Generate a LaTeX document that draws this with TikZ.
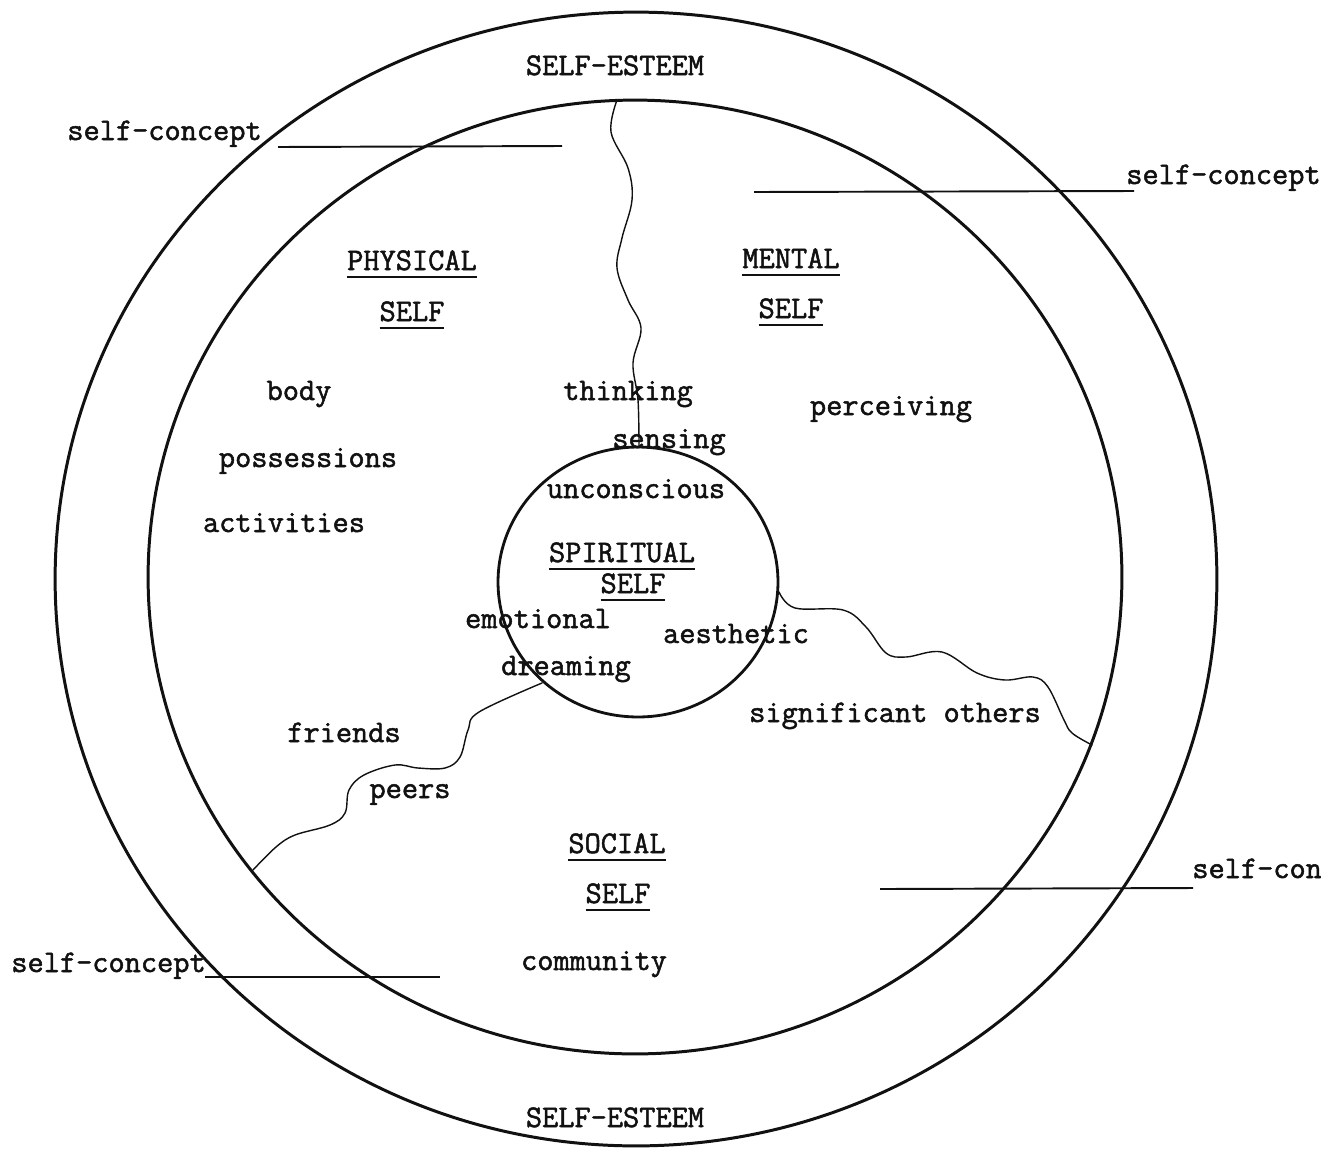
\documentclass[tikz,border=0pt]{standalone}
\usepackage{fontspec}
\usepackage{xcolor}
\usepackage{tikz}
\newfontfamily\typefont{Latin Modern Mono}[FakeBold=1.6]
\definecolor{ink}{HTML}{111111}
\definecolor{paper}{HTML}{FFFFFF}
\newcommand{\undrl}[1]{\setbox0\hbox{#1}\rlap{\rule[-4.5pt]{\wd0}{1.3pt}}\box0}
\tikzset{
  ring/.style={draw=ink, line width=1.7pt},
  core/.style={draw=ink, line width=1.6pt},
  wave/.style={draw=ink, line width=0.8pt, line cap=round, line join=round},
  lead/.style={draw=ink, line width=1.1pt},
  lab/.style={text=ink, font=\typefont\fontsize{17.9}{20}\selectfont, inner sep=0pt, anchor=base},
  labw/.style={lab, anchor=base west},
  labe/.style={lab, anchor=base east},
}
\begin{document}
\begin{tikzpicture}[x=0.02cm,y=-0.02cm]
  \fill[paper] (0,0) rectangle (1321,1150);
  \useasboundingbox (0,0) rectangle (1321,1150);
  \coordinate (O) at (636,579);
  \coordinate (I) at (635,577);
  \coordinate (S) at (638,582);

  % esteem ring, concept ring, spiritual core
  \draw[ring] (O) ellipse [x radius=11.62cm, y radius=11.34cm];
  \draw[ring] (I) ellipse [x radius=9.74cm, y radius=9.54cm];
  \draw[core] (S) ellipse [x radius=2.8cm, y radius=2.7cm];

  % borders between the selves
  \draw[wave] plot[smooth, tension=0.6] coordinates {(617,100) (611,132) (628,168) (632,200) (622,238) (617,268) (628,300) (641,328) (633,363) (638,400) (639,447)};
  \draw[wave] plot[smooth, tension=0.6] coordinates {(779,592) (795,608) (843,610) (866,627) (886,653) (906,657) (942,652) (977,673) (1005,680) (1033,677) (1048,687) (1064,720) (1072,733) (1092,745)};
  \draw[wave] plot[smooth, tension=0.6] coordinates {(542,683) (479,712) (468,730) (460,757) (445,768) (418,768) (395,765) (364,775) (349,790) (345,813) (330,825) (295,835) (276,847) (253,870)};

  % outer labels
  \node[lab] (esteemN) at (615,75) {SELF-ESTEEM};
  \node[lab] (esteemS) at (615,1127) {SELF-ESTEEM};
  \node[labw] (conceptNW) at (67,140) {self-concept};
  \node[labe] (conceptNE) at (1321,184) {self-concept};
  \node[labw] (conceptE) at (1192,878) {self-con};
  \node[labw] (conceptSW) at (11,972) {self-concept};

  % leader lines
  \coordinate (nwA) at (278,147);
  \coordinate (nwB) at (562,146);
  \coordinate (neA) at (754,192);
  \coordinate (neB) at (1134,191);
  \coordinate (eA) at (880,889);
  \coordinate (eB) at (1193,888);
  \coordinate (swA) at (205,977);
  \coordinate (swB) at (440,977);
  \draw[lead] (nwA) -- (nwB);
  \draw[lead] (neA) -- (neB);
  \draw[lead] (eA) -- (eB);
  \draw[lead] (swA) -- (swB);

  % physical self
  \node[lab] (physA) at (412,270) {\undrl{PHYSICAL}};
  \node[lab] (physB) at (412,321) {\undrl{SELF}};
  \node[lab] (body) at (299,400) {body};
  \node[lab] (poss) at (308,467) {possessions};
  \node[lab] (activ) at (284,532) {activities};

  % mental self
  \node[lab] (mentA) at (791,268) {\undrl{MENTAL}};
  \node[lab] (mentB) at (791,318) {\undrl{SELF}};
  \node[lab] (perc) at (891,415) {perceiving};
  \node[lab] (think) at (628,400) {thinking};
  \node[lab] (sens) at (669,448) {sensing};

  % spiritual self
  \node[lab] (uncon) at (636,498) {unconscious};
  \node[lab] (spirA) at (622,562) {\undrl{SPIRITUAL}};
  \node[lab] (spirB) at (633,593) {\undrl{SELF}};
  \node[lab] (emot) at (538,628) {emotional};
  \node[lab] (aesth) at (736,643) {aesthetic};
  \node[lab] (dream) at (566,675) {dreaming};

  % social self
  \node[lab] (friends) at (344,742) {friends};
  \node[lab] (peers) at (410,798) {peers};
  \node[lab] (signif) at (895,722) {significant others};
  \node[lab] (socA) at (617,853) {\undrl{SOCIAL}};
  \node[lab] (socB) at (618,903) {\undrl{SELF}};
  \node[lab] (commun) at (594,970) {community};
\end{tikzpicture}
\end{document}
